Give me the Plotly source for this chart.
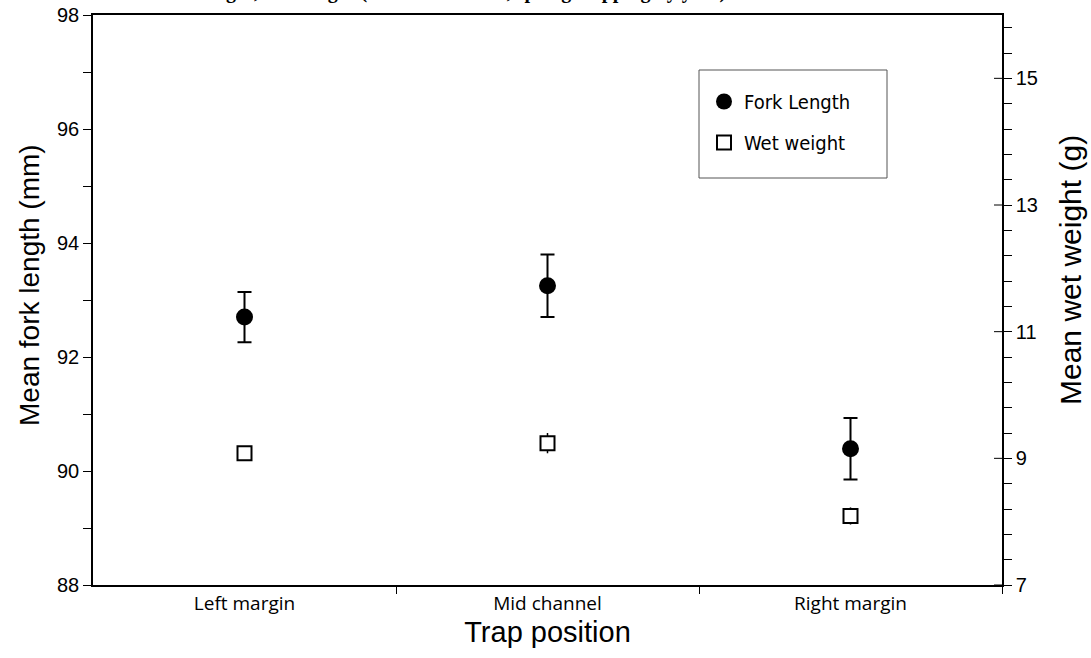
import plotly.graph_objects as go

# Trap positions and their x placement
positions = ["Left margin", "Mid channel", "Right margin"]
pos_x = [1, 2, 3]

# Mean fork length (mm) with standard errors
fork_length = [92.7, 93.25, 90.39]
fork_length_se = [0.44, 0.55, 0.54]

# Mean wet weight (g) with standard errors
wet_weight = [9.08, 9.24, 8.09]
wet_weight_se = [0.1, 0.16, 0.135]

left_ticks = [88, 90, 92, 94, 96, 98]
right_ticks = [7, 9, 11, 13, 15]
x_dividers = [1.5, 2.5, 3.5]

PLOT_W, PLOT_H = 909, 570
LEFT, TOP = 93, 15


def px_x(px):
    return (px - LEFT) / PLOT_W


def px_y(py):
    return 1 - (py - TOP) / PLOT_H


fig = go.Figure()

fig.add_trace(go.Scatter(
    x=pos_x, y=fork_length, mode="markers", name="Fork Length",
    legendgroup="fl",
    marker=dict(symbol="circle", size=17, color="black"),
    error_y=dict(type="data", array=fork_length_se, color="black",
                 thickness=2, width=7),
    yaxis="y",
))

fig.add_trace(go.Scatter(
    x=pos_x, y=wet_weight, mode="markers", name="Wet weight",
    legendgroup="ww",
    marker=dict(symbol="square", size=14, color="white",
                line=dict(color="black", width=2)),
    error_y=dict(type="data", array=wet_weight_se, color="black",
                 thickness=1.5, width=0),
    yaxis="y2",
))

# inner half of the crossing major ticks on the right axis
for v in right_ticks:
    fig.add_shape(type="line", xref="paper", yref="y2",
                  x0=1 - 8 / PLOT_W, x1=1, y0=v, y1=v,
                  line=dict(color="black", width=1))

# legend frame
fig.add_shape(type="rect", xref="paper", yref="paper",
              x0=px_x(699), x1=px_x(887), y0=px_y(178), y1=px_y(70),
              line=dict(color="#555", width=1), fillcolor="rgba(0,0,0,0)")

# heading above the frame (mostly beyond the top edge)
fig.add_annotation(
    text="Mean fork length, wet weight (Chinook salmon, spring trapping by year)",
    xref="paper", yref="paper", x=px_x(415), y=1.017, xanchor="center", yanchor="bottom",
    showarrow=False,
    font=dict(family="Liberation Serif", size=20, color="black", weight="bold"),
)

# vertical axis titles
fig.add_annotation(
    text="Mean fork length (mm)", textangle=-90,
    xref="paper", yref="paper", x=px_x(30), y=px_y(285),
    xanchor="center", yanchor="middle", showarrow=False,
    font=dict(family="Liberation Sans", size=28, color="black"),
)
fig.add_annotation(
    text="Mean wet weight (g)", textangle=-90,
    xref="paper", yref="paper", x=px_x(1070), y=px_y(270),
    xanchor="center", yanchor="middle", showarrow=False,
    font=dict(family="Liberation Sans", size=30, color="black"),
)

fig.update_layout(
    width=1091, height=658,
    margin=dict(l=LEFT, r=1091 - LEFT - PLOT_W, t=TOP, b=658 - TOP - PLOT_H),
    plot_bgcolor="white", paper_bgcolor="white",
    showlegend=True,
    legend=dict(
        x=px_x(704), y=px_y(82), xanchor="left", yanchor="top",
        bgcolor="rgba(0,0,0,0)", borderwidth=0,
        font=dict(family="DejaVu Sans Condensed, Liberation Sans Narrow, sans-serif",
                  size=20, color="black"),
        itemsizing="trace", tracegroupgap=12,
    ),
    xaxis=dict(
        range=[0.5, 3.5], tickvals=pos_x, ticktext=positions,
        ticks="", showgrid=False, zeroline=False, automargin=False,
        showline=True, linecolor="black", linewidth=1.5, mirror=True,
        tickfont=dict(family="Open Sans", size=19, color="black"),
        minor=dict(tickvals=x_dividers, ticks="outside", ticklen=7,
                   tickcolor="black", tickwidth=1),
        title=dict(text="Trap position", standoff=6,
                   font=dict(family="Liberation Sans", size=29, color="black")),
    ),
    yaxis=dict(
        range=[88, 98], tickvals=left_ticks, ticks="outside", ticklen=8,
        tickcolor="black", showgrid=False, zeroline=False, automargin=False,
        showline=True, linecolor="black", linewidth=1.5,
        tickfont=dict(family="Liberation Sans", size=20, color="black"),
        minor=dict(dtick=1, ticks="outside", ticklen=8, tickcolor="black"),
    ),
    yaxis2=dict(
        range=[7, 16], tickvals=right_ticks, overlaying="y", side="right",
        ticks="outside", ticklen=8, tickcolor="black", automargin=False,
        showgrid=False, zeroline=False,
        showline=True, linecolor="black", linewidth=1.5,
        tickfont=dict(family="Liberation Sans", size=20, color="black"),
        minor=dict(tick0=7, dtick=0.4, ticks="outside", ticklen=8, tickcolor="black"),
    ),
)

fig.write_html("out.html")
